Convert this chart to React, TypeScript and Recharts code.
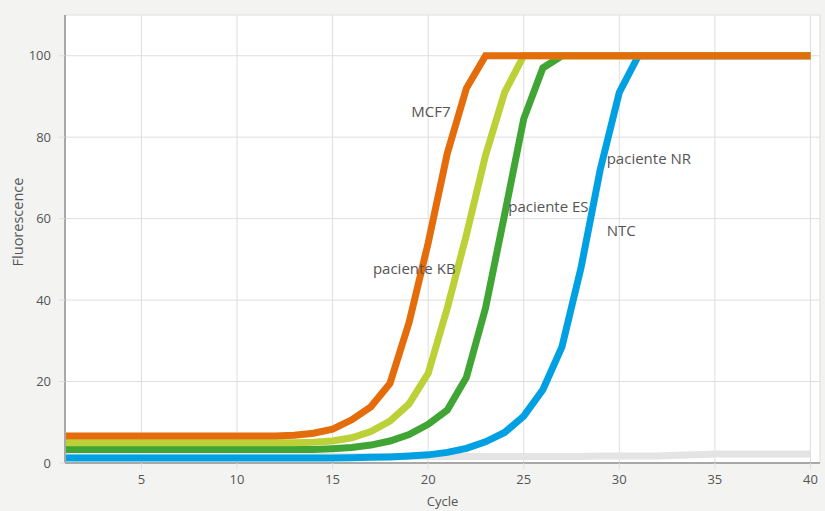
import { LineChart, Line, XAxis, YAxis, CartesianGrid, ReferenceDot, Label } from "recharts";

const FONT = "'Open Sans', sans-serif";
const TEXT = "#555";

const cycles = [
    1, 2, 3, 4, 5, 6, 7, 8, 9, 10, 11, 12, 13, 14, 15, 16, 17, 18, 19, 20,
    21, 22, 23, 24, 25, 26, 27, 28, 29, 30, 31, 32, 33, 34, 35, 36, 37, 38, 39, 40,
];

// orange
const mcf7 = [
    6.6, 6.6, 6.6, 6.6, 6.6, 6.6, 6.6, 6.6, 6.6, 6.6, 6.6, 6.6, 6.8, 7.3, 8.3, 10.6, 13.8, 19.5, 34.5, 54,
    76, 92, 100, 100, 100, 100, 100, 100, 100, 100, 100, 100, 100, 100, 100, 100, 100, 100, 100, 100,
];
// light green
const kb = [
    5, 5, 5, 5, 5, 5, 5, 5, 5, 5, 5, 5, 5, 5.1, 5.4, 6.2, 7.7, 10.3, 14.5, 22,
    38, 56, 75.5, 91, 100, 100, 100, 100, 100, 100, 100, 100, 100, 100, 100, 100, 100, 100, 100, 100,
];
// green
const es = [
    3.3, 3.3, 3.3, 3.3, 3.3, 3.3, 3.3, 3.3, 3.3, 3.3, 3.3, 3.3, 3.3, 3.3, 3.5, 3.8, 4.4, 5.4, 7, 9.5,
    13, 21, 38, 61, 84.5, 97, 100, 100, 100, 100, 100, 100, 100, 100, 100, 100, 100, 100, 100, 100,
];
// blue
const nr = [
    1.2, 1.2, 1.2, 1.2, 1.2, 1.2, 1.2, 1.2, 1.2, 1.2, 1.2, 1.2, 1.2, 1.2, 1.2, 1.3, 1.4, 1.5, 1.7, 2,
    2.6, 3.6, 5.2, 7.5, 11.5, 18, 28.5, 48, 72, 91, 100, 100, 100, 100, 100, 100, 100, 100, 100, 100,
];
// grey, flat
const ntc = [
    1.6, 1.6, 1.6, 1.6, 1.6, 1.6, 1.6, 1.6, 1.6, 1.6, 1.6, 1.6, 1.6, 1.6, 1.6, 1.6, 1.6, 1.6, 1.6, 1.6,
    1.6, 1.6, 1.6, 1.6, 1.6, 1.6, 1.6, 1.6, 1.7, 1.7, 1.7, 1.7, 1.9, 2, 2.2, 2.2, 2.2, 2.2, 2.2, 2.2,
];

const xTicks = [5, 10, 15, 20, 25, 30, 35, 40];
const yTicks = [0, 20, 40, 60, 80, 100];

const notes = [
    { text: "MCF7", x: 19.12, y: 86.3 },
    { text: "paciente KB", x: 17.11, y: 47.8 },
    { text: "paciente ES", x: 24.19, y: 62.9 },
    { text: "paciente NR", x: 29.34, y: 74.8 },
    { text: "NTC", x: 29.34, y: 57.0 },
];

const data = cycles.map((c, i) => ({
    cycle: c,
    mcf7: mcf7[i],
    kb: kb[i],
    es: es[i],
    nr: nr[i],
    ntc: ntc[i],
}));

const tickStyle = { fill: TEXT, fontSize: 13, fontFamily: FONT };

function YTitle(props: any) {
    const vb = props.viewBox;
    const cx = vb.x + 17;
    const cy = vb.y + vb.height / 2 - 17;
    return (
        <text
            x={cx}
            y={cy}
            transform={`rotate(-90 ${cx} ${cy})`}
            textAnchor="middle"
            dominantBaseline="central"
            fill={TEXT}
            fontSize={14.5}
            fontFamily={FONT}
        >
            Fluorescence
        </text>
    );
}

export default function App() {
    return (
        <div style={{ width: 825, height: 511, background: "#f3f3f2" }}>
            <style>{`body{margin:0}`}</style>
            <LineChart
                width={825}
                height={511}
                data={data}
                margin={{ top: 15, right: 5, left: 0, bottom: 0 }}
            >
                <CartesianGrid stroke="#dedede" fill="#fff" />
                <XAxis
                    dataKey="cycle"
                    type="number"
                    domain={[1, 40.5]}
                    ticks={xTicks}
                    allowDataOverflow
                    height={48}
                    tickSize={6}
                    tickMargin={6}
                    tick={tickStyle}
                    tickLine={{ stroke: "#dedede" }}
                    axisLine={{ stroke: "#a8a8a8", strokeWidth: 2 }}
                >
                    <Label
                        value="Cycle"
                        position="insideBottom"
                        offset={5}
                        fill={TEXT}
                        fontSize={13}
                        fontFamily={FONT}
                    />
                </XAxis>
                <XAxis
                    xAxisId="top"
                    orientation="top"
                    dataKey="cycle"
                    type="number"
                    domain={[1, 40.5]}
                    ticks={xTicks}
                    allowDataOverflow
                    height={0}
                    tickSize={8}
                    tick={() => <g />}
                    tickLine={{ stroke: "#dedede" }}
                    axisLine={{ stroke: "#a8a8a8", strokeWidth: 2 }}
                />
                <YAxis
                    domain={[0, 110]}
                    ticks={yTicks}
                    width={65}
                    tickSize={6}
                    tickMargin={8}
                    tick={tickStyle}
                    tickLine={{ stroke: "#dedede" }}
                    axisLine={{ stroke: "#a8a8a8", strokeWidth: 2 }}
                >
                    <Label content={YTitle} />
                </YAxis>
                <YAxis
                    yAxisId="right"
                    orientation="right"
                    domain={[0, 110]}
                    width={0}
                    tick={false}
                    tickLine={false}
                    axisLine={{ stroke: "#a8a8a8", strokeWidth: 2 }}
                />
                <Line type="linear" dataKey="ntc" stroke="#e4e4e4" strokeWidth={7} dot={false} isAnimationActive={false} />
                <Line type="linear" dataKey="nr" stroke="#00a0e3" strokeWidth={7} dot={false} isAnimationActive={false} />
                <Line type="linear" dataKey="es" stroke="#40a535" strokeWidth={7} dot={false} isAnimationActive={false} />
                <Line type="linear" dataKey="kb" stroke="#bcd037" strokeWidth={7} dot={false} isAnimationActive={false} />
                <Line type="linear" dataKey="mcf7" stroke="#e46c0a" strokeWidth={7} dot={false} isAnimationActive={false} />
                {notes.map((n) => (
                    <ReferenceDot
                        key={n.text}
                        x={n.x}
                        y={n.y}
                        r={0}
                        fill="none"
                        stroke="none"
                        label={{
                            value: n.text,
                            position: "right",
                            offset: 0,
                            fill: TEXT,
                            fontSize: 15,
                            fontFamily: FONT,
                        }}
                    />
                ))}
            </LineChart>
        </div>
    );
}
